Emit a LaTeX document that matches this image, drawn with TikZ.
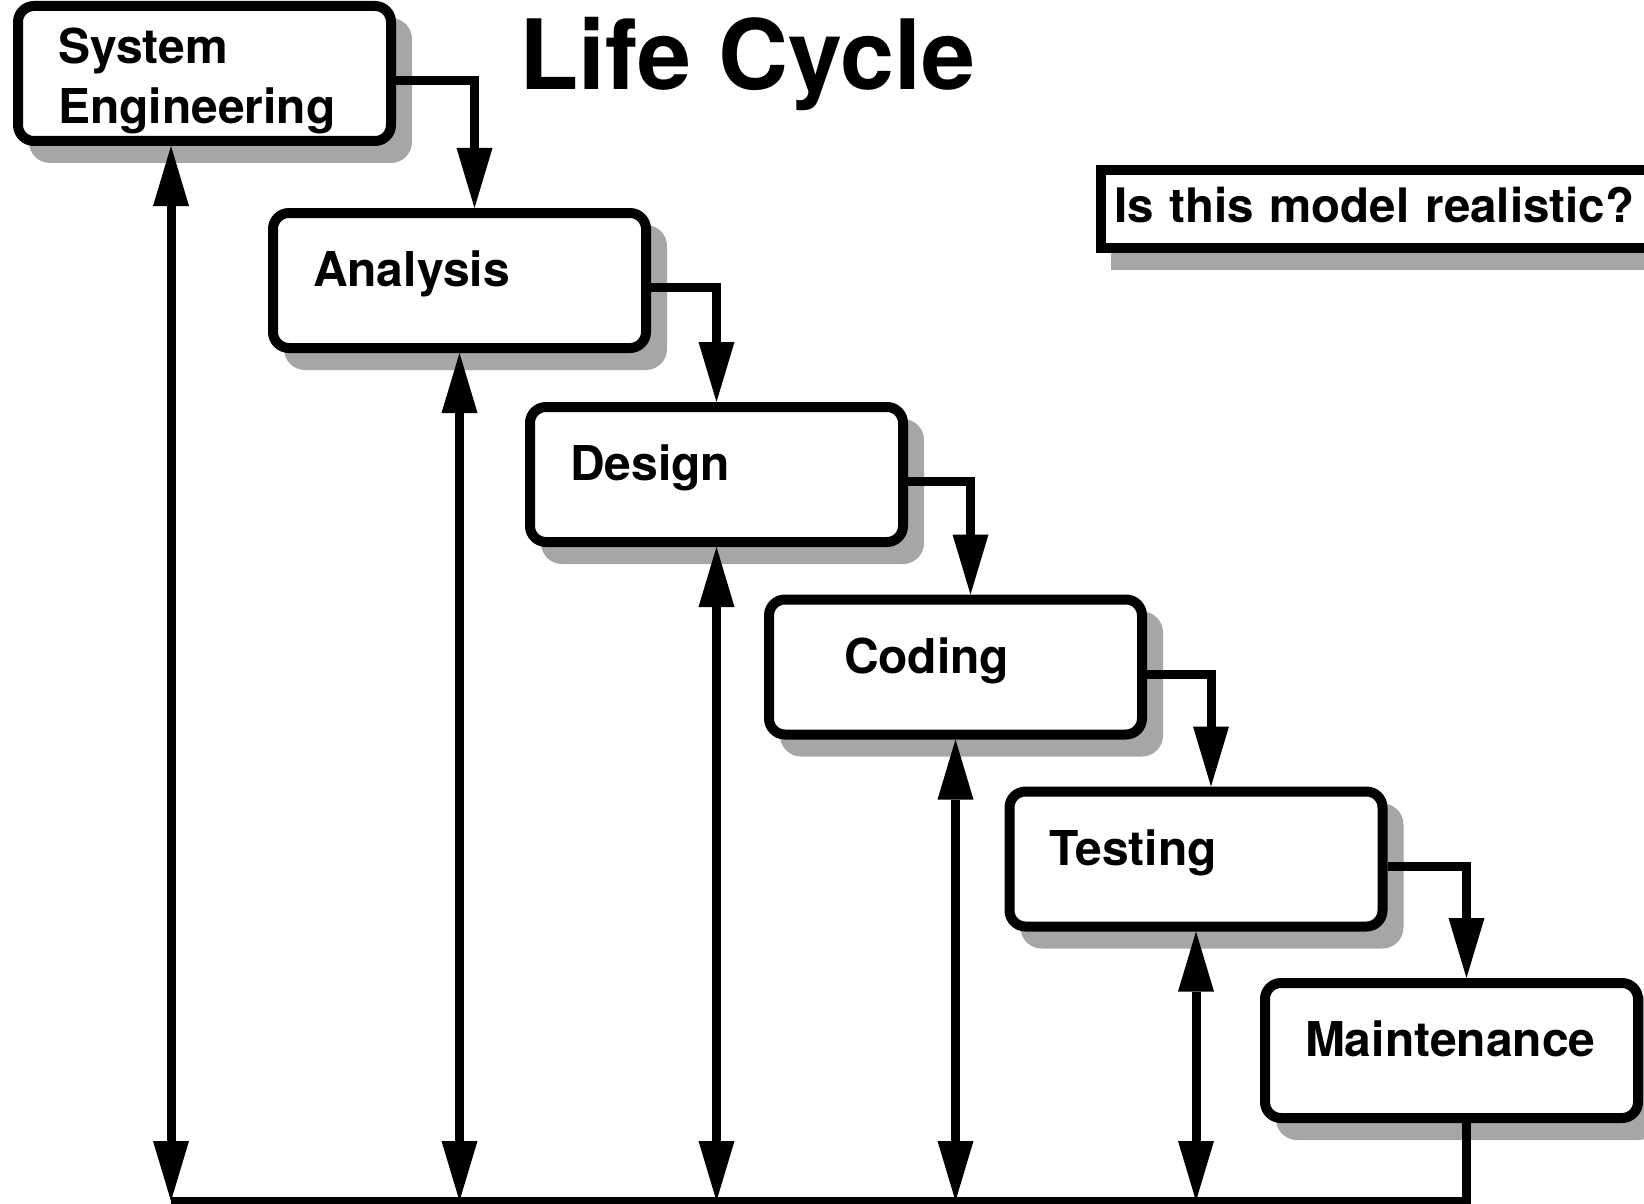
\documentclass[tikz,border=0pt]{standalone}
\usepackage{fontspec}
\setmainfont{TeX Gyre Heros}
\usepackage{tikz}
\usetikzlibrary{arrows.meta,backgrounds}
\definecolor{dropgray}{gray}{0.65}
\newcommand{\lblfont}{\fontsize{48}{60}\selectfont\bfseries}
\newcommand{\titlefont}{\fontsize{97}{97}\selectfont\bfseries}

\begin{document}
\begin{tikzpicture}[x=1pt,y=-1pt,
        stage/.style={draw,fill=white,line width=10pt,rounded corners=16pt,
                      minimum width=373pt,minimum height=135pt,text width=293pt,
                      inner xsep=40pt,inner ysep=39pt,text height=34pt,text depth=22pt,
                      align=left,font=\lblfont},
        flow/.style={line width=9pt,-{Triangle[length=60pt,width=36pt,line width=0pt]}},
        back/.style={line width=9pt,{Triangle[length=60pt,width=36pt,line width=0pt]}-{Triangle[length=60pt,width=36pt,line width=0pt]}}]
        \useasboundingbox (0,0) rectangle (1644,1204);

        \node[anchor=base west,inner sep=0pt,font=\titlefont] (title) at (519,90) {Life Cycle};

        \node[stage,inner ysep=24pt,text depth=53pt] (sys) at (204.5,73.5) {System\\Engineering};
        \node[stage] (ana) at (459.5,280.5) {Analysis};
        \node[stage] (des) at (716.5,474.5) {Design};
        \node[stage,inner xsep=75pt,text width=223pt] (cod) at (955.5,667) {Coding};
        \node[stage] (tst) at (1196,859) {Testing};
        \node[stage] (mnt) at (1451.5,1050.5) {Maintenance};

        \node[draw,fill=white,line width=10pt,anchor=west,minimum height=78pt,inner xsep=13pt,
              text height=34pt,text depth=8pt,text width=600pt,font=\fontsize{47.5}{60}\selectfont\bfseries]
              (real) at (1096,209) {Is this model realistic?};

        % shadows
        \begin{scope}[on background layer]
        \foreach \n in {sys,ana,des,cod,tst,mnt}
                \fill[dropgray,rounded corners=21pt] ([shift={(16,17)}]\n.north west) rectangle ([shift={(16,17)}]\n.south east);
        \fill[dropgray] ([shift={(15,17)}]real.north west) rectangle ([shift={(15,17)}]real.south east);
        \end{scope}

        % going down the steps
        \foreach \a/\b/\s in {sys/ana/15, ana/des/0, des/cod/15, cod/tst/15, tst/mnt/15}
                \draw[flow] ([yshift=-7pt]\a.east) -| ([xshift=\s pt]\b.north);

        % going back
        \coordinate (base) at (171,1201);
        \draw[line width=9pt] ([xshift=15pt]mnt.south) |- (base);
        \draw[back] (sys.south -| base) -- (base);
        \foreach \n in {ana,des,cod,tst}
                \draw[back] (\n.south) -- (\n.south |- base);
\end{tikzpicture}
\end{document}
